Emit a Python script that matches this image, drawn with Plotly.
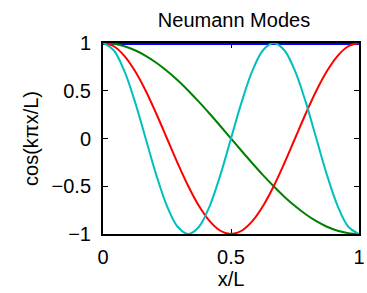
import plotly.graph_objects as go

# x/L sample positions (steps of 1/24)
x_over_L = [0.0, 0.0417, 0.0833, 0.125, 0.1667, 0.2083, 0.25, 0.2917, 0.3333,
            0.375, 0.4167, 0.4583, 0.5, 0.5417, 0.5833, 0.625, 0.6667, 0.7083,
            0.75, 0.7917, 0.8333, 0.875, 0.9167, 0.9583, 1.0]

mode_k0 = [1.0] * 25
mode_k1 = [1.0, 0.991, 0.966, 0.924, 0.866, 0.793, 0.707, 0.609, 0.5, 0.383, 0.259, 0.131, 0.0,
           -0.131, -0.259, -0.383, -0.5, -0.609, -0.707, -0.793, -0.866, -0.924, -0.966, -0.991, -1.0]
mode_k2 = [1.0, 0.966, 0.866, 0.707, 0.5, 0.259, 0.0, -0.259, -0.5, -0.707, -0.866, -0.966, -1.0,
           -0.966, -0.866, -0.707, -0.5, -0.259, 0.0, 0.259, 0.5, 0.707, 0.866, 0.966, 1.0]
mode_k3 = [1.0, 0.924, 0.707, 0.383, 0.0, -0.383, -0.707, -0.924, -1.0, -0.924, -0.707, -0.383, 0.0,
           0.383, 0.707, 0.924, 1.0, 0.924, 0.707, 0.383, 0.0, -0.383, -0.707, -0.924, -1.0]

tick_vals = [0, 0.5, 1]
tick_text = ["0", "0.5", "1"]
ytick_vals = [-1, -0.5, 0, 0.5, 1]
ytick_text = ["\u22121", "\u22120.5", "0", "0.5", "1"]

# (values, colour, line width) - the flat mode sits on the top border, so half of it is clipped
series = [(mode_k0, "#0000FF", 4), (mode_k1, "#008000", 2), (mode_k2, "#FF0000", 2), (mode_k3, "#00BFBF", 2)]

fig = go.Figure()
for ys, col, w in series:
    fig.add_trace(go.Scatter(x=x_over_L, y=ys, mode="lines",
                             line=dict(color=col, width=w, shape="spline"),
                             showlegend=False, hoverinfo="skip"))

font = "Liberation Sans, Arial, sans-serif"
axis_common = dict(showgrid=False, zeroline=False, showline=True, linecolor="black",
                   linewidth=2, mirror="ticks", ticks="inside", ticklen=5, tickwidth=1,
                   tickcolor="black", layer="below traces", automargin=False,
                   ticklabeloverflow="allow",
                   tickfont=dict(family=font, size=20, color="black"))

fig.update_layout(
    width=367, height=293,
    margin=dict(l=103, r=8, t=43, b=59),
    paper_bgcolor="white", plot_bgcolor="white",
    title=dict(text="Neumann Modes", x=234 / 367, xanchor="center", y=1 - 20 / 293, yanchor="middle",
               font=dict(family=font, size=20, color="black")),
    xaxis=dict(range=[0, 1], tickvals=tick_vals, ticktext=tick_text, ticklabelstandoff=4,
               title=dict(text="x/L", font=dict(family=font, size=20, color="black"), standoff=4),
               **axis_common),
    yaxis=dict(range=[-1, 1], tickvals=ytick_vals, ticktext=ytick_text, ticklabelstandoff=6,
               title=dict(text="cos(k\u03c0x/L)", font=dict(family=font, size=20, color="black"), standoff=8),
               **axis_common),
)

fig.write_html("out.html", config={"displayModeBar": False},
               post_script="document.body.style.margin='0';")
